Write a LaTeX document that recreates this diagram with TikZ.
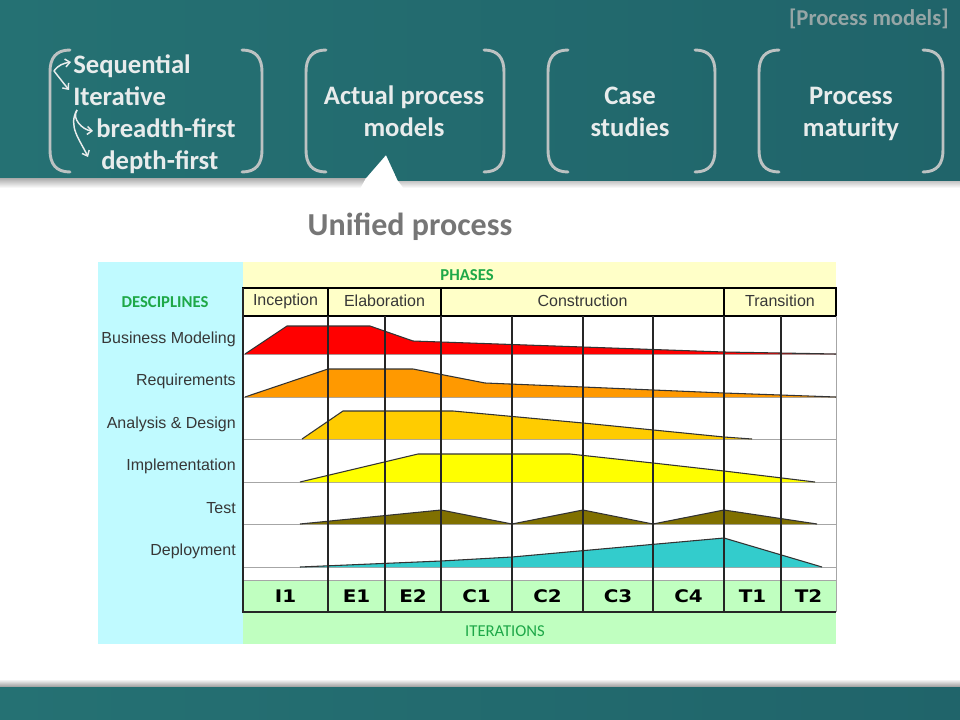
\documentclass[tikz,border=0pt]{standalone}
\usepackage{fontspec}
\setmainfont{Carlito}
\newfontfamily\chartfont{Liberation Sans}
\newfontfamily\iterfont[FakeStretch=1.15]{DejaVu Sans}
\usetikzlibrary{calc,arrows.meta}

\definecolor{tealmid}{RGB}{42,128,128}
\definecolor{tealedge}{RGB}{37,113,115}
\definecolor{tealdark}{RGB}{32,100,106}
\definecolor{bracketgrey}{RGB}{188,194,194}
\definecolor{labelwhite}{RGB}{232,236,236}
\definecolor{taggrey}{RGB}{150,166,166}
\definecolor{titlegrey}{RGB}{118,118,118}
\definecolor{discyan}{RGB}{192,250,255}
\definecolor{phaseyellow}{RGB}{255,255,200}
\definecolor{itergreen}{RGB}{192,255,192}
\definecolor{capgreen}{RGB}{30,168,72}
\definecolor{inktext}{RGB}{55,55,55}
\definecolor{bmred}{RGB}{255,0,0}
\definecolor{reqorange}{RGB}{255,153,0}
\definecolor{adgold}{RGB}{255,204,0}
\definecolor{implyellow}{RGB}{255,255,0}
\definecolor{testolive}{RGB}{128,112,0}
\definecolor{depcyan}{RGB}{51,204,204}

\def\bracketpair(#1:#2){%
	\draw[bracket] (#1+20,50) .. controls (#1+6,50) and (#1,58) .. (#1,72) -- (#1,150) .. controls (#1,164) and (#1+6,172) .. (#1+20,172);
	\draw[bracket] (#2-20,50) .. controls (#2-6,50) and (#2,58) .. (#2,72) -- (#2,150) .. controls (#2,164) and (#2-6,172) .. (#2-20,172);}
\def\hump#1#2{\fill[#1] #2 -- cycle; \draw[humpedge] #2;}

\begin{document}
\begin{tikzpicture}[x=0.75pt, y=-0.75pt,
	bracket/.style={line width=2.2pt, color=bracketgrey, line cap=round},
	menutext/.style={color=labelwhite, font=\fontsize{20}{24}\selectfont\bfseries, align=center, inner sep=0pt, anchor=base},
	menuarrow/.style={draw=labelwhite, line width=1.1pt, -{Straight Barb[length=3.5pt, width=6pt]}},
	chartlabel/.style={color=inktext, font=\chartfont\fontsize{12}{14}\selectfont, inner sep=0pt},
	caption/.style={color=capgreen, font=\fontsize{12.5}{14}\selectfont, inner sep=0pt},
	phasebox/.style={draw=black, line width=1.2pt, fill=phaseyellow},
	gridline/.style={draw=black!85, line width=1.4pt},
	rowline/.style={draw=black!35, line width=0.6pt},
	humpedge/.style={draw=black!80, line width=0.8pt},
	iterlabel/.style={font=\iterfont\bfseries\fontsize{13}{15}\selectfont, inner sep=0pt}]
	%%%%% START %%%%%
	\useasboundingbox (0,0) rectangle (960,720);
	\fill[white] (0,0) rectangle (960,720);
	
	% top band with notch
	\shade[top color=black!40, bottom color=white] (0,176) rectangle (960,188);
	\fill[white] (366,178) -- (386,155) -- (398,181) -- (404,189) -- (360,189) -- cycle;
	\shade[left color=tealedge, middle color=tealmid, right color=tealdark] (0,0) -- (960,0) -- (960,181) -- (398,181) -- (386,155) -- (366,178) -- (0,178) -- cycle;
	
	% bottom band
	\shade[top color=white, bottom color=black!45] (0,679) rectangle (960,688);
	\shade[left color=tealedge, middle color=tealmid, right color=tealdark] (0,687) rectangle (960,720);
	
	\node[color=taggrey, font=\fontsize{17}{20}\selectfont\bfseries, anchor=east, inner sep=0pt] (tag) at (949,19) {[Process models]};
	
	\bracketpair(50:262)
	\bracketpair(306:504)
	\bracketpair(548:715)
	\bracketpair(759:943)
	
	\node[menutext, anchor=base west] (seq) at (73,74) {Sequential};
	\node[menutext, anchor=base west] (iter) at (73,106) {Iterative};
	\node[menutext, anchor=base west] (breadth) at (96,138) {breadth-first};
	\node[menutext, anchor=base west] (depth) at (101,170) {depth-first};
	
	\coordinate (forkA) at (54,71);
	\coordinate (seqtip) at (71,62);
	\coordinate (itertip) at (69,90);
	\coordinate (forkB) at (77,110);
	\coordinate (breadthtip) at (93,131);
	\coordinate (depthtip) at (88,157);
	\draw[menuarrow] (forkA) to[out=55, in=190] (seqtip);
	\draw[menuarrow] (forkA) -- (itertip);
	\draw[menuarrow] (forkB) to[out=235, in=175] (breadthtip);
	\draw[menuarrow] (forkB) to[out=240, in=115] (depthtip);
	
	% last line on the base anchor
	\node[menutext] (actual) at (404,137) {Actual process\\models};
	\node[menutext] (cases) at (630,137) {Case\\studies};
	\node[menutext] (maturity) at (851,137) {Process\\maturity};
	
	\node[color=titlegrey, font=\fontsize{24}{28}\selectfont\bfseries, inner sep=0pt] (unified) at (410,227) {Unified process};
	
	% chart panels
	\fill[discyan] (98,262) rectangle (243,644);
	\fill[phaseyellow] (243,262) rectangle (836,288);
	\fill[itergreen] (243,580) rectangle (836,644);
	
	\node[caption, font=\fontsize{12.5}{14}\selectfont\bfseries] (phases) at (467,275) {PHASES};
	\node[caption, font=\fontsize{12.5}{14}\selectfont\bfseries] (disciplines) at (165,302) {DESCIPLINES};
	\node[caption] (iterations) at (505,631) {ITERATIONS};
	
	\foreach \xa/\xb/\pname in {243/328/Inception, 328/441/Elaboration, 441/724/Construction, 724/836/Transition}{
		\draw[phasebox] (\xa,288) rectangle (\xb,316);
		\node[chartlabel] (ph\pname) at ({(\xa+\xb)/2},301) {\pname};
	}
	
	\foreach \yb in {354,397,439,482,524,567}
		\draw[rowline] (243,\yb) -- (836,\yb);
	\draw[rowline] (243,580) -- (836,580);
	\draw[rowline] (836,316) -- (836,580);
	
	\hump{bmred}{(245,354) -- (287,326) -- (370,326) -- (413,341) -- (441,342) -- (583,347) -- (724,352) -- (836,354)}
	\hump{reqorange}{(245,397) -- (328,369) -- (413,369) -- (485,383) -- (583,387) -- (724,393) -- (836,397)}
	\hump{adgold}{(302,439) -- (343,411) -- (453,411) -- (583,423) -- (724,437) -- (752,439)}
	\hump{implyellow}{(300,482) -- (418,454) -- (570,454) -- (653,463) -- (724,471) -- (815,482)}
	\hump{testolive}{(300,524) -- (441,510) -- (512,524) -- (583,510) -- (653,524) -- (724,510) -- (817,524)}
	\hump{depcyan}{(300,567) -- (441,561) -- (512,557) -- (724,538) -- (822,567)}
	
	\foreach \dname/\yc in {Business Modeling/339, Requirements/381, Analysis \& Design/424, Implementation/466, Test/508, Deployment/551}
		\node[chartlabel, anchor=east] (disc\yc) at (236,\yc) {\dname};
	
	\foreach \xv in {328,385,441,512,583,653,724,781}
		\draw[gridline] (\xv,316) -- (\xv,612);
	\draw[gridline] (243,288) -- (243,612) -- (836,612);
	\draw[rowline] (836,580) -- (836,612);
	
	\foreach \iname/\xc in {I1/285.5, E1/356.5, E2/413, C1/476.5, C2/547.5, C3/618, C4/688.5, T1/752.5, T2/808.5}
		\node[iterlabel] (it\iname) at (\xc,596) {\iname};
	
	%%%%% END %%%%%
\end{tikzpicture}
\end{document}
